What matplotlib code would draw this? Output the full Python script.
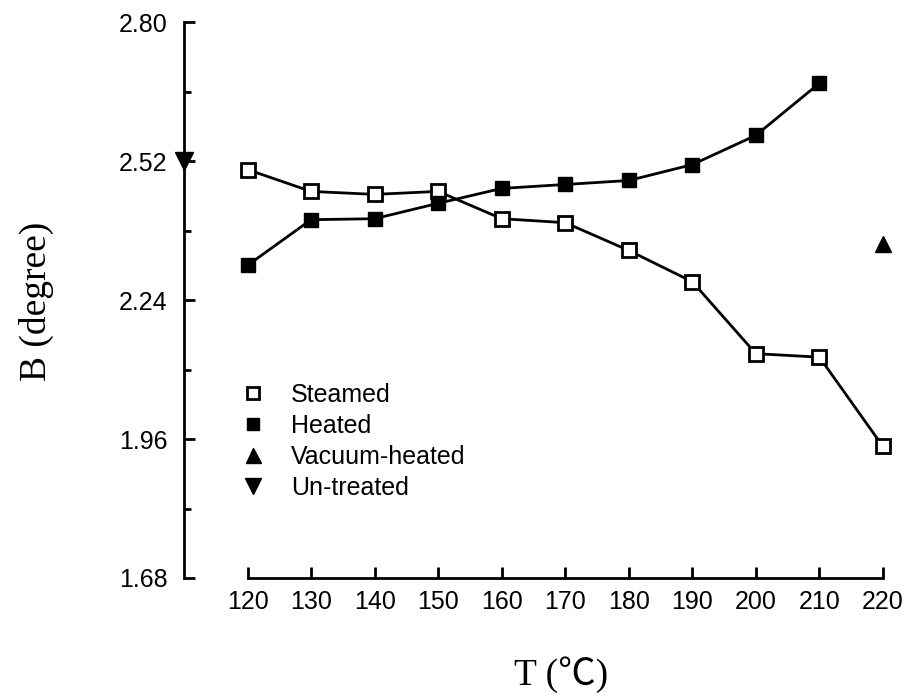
import matplotlib
matplotlib.use("Agg")
import matplotlib.pyplot as plt
from matplotlib.ticker import MultipleLocator

temps = [120, 130, 140, 150, 160, 170, 180, 190, 200, 210, 220]
steamed = [2.503, 2.459, 2.453, 2.459, 2.404, 2.396, 2.340, 2.277, 2.132, 2.125, 1.945]
heated_t = [120, 130, 140, 150, 160, 170, 180, 190, 200, 210]
heated = [2.310, 2.402, 2.404, 2.435, 2.465, 2.473, 2.481, 2.513, 2.572, 2.677]
vacuum_t = [220]
vacuum = [2.354]
untreated_t = [110]
untreated = [2.52]
yticks = [1.68, 1.96, 2.24, 2.52, 2.80]
xticks = [120, 130, 140, 150, 160, 170, 180, 190, 200, 210, 220]

plt.rcParams['font.family'] = ['Liberation Sans', 'DejaVu Sans']

fig = plt.figure(figsize=(9.13, 7.0), dpi=100)
ax = fig.add_axes([0.2015, 0.1743, 0.7656, 0.794])

ax.plot(temps, steamed, color='black', lw=2.0, marker='s', ms=10,
        mfc='white', mec='black', mew=2.0, label='Steamed', clip_on=False, zorder=3)
ax.plot(heated_t, heated, color='black', lw=2.0, marker='s', ms=10,
        mfc='black', mec='black', label='Heated', clip_on=False, zorder=3)
ax.plot(vacuum_t, vacuum, ls='none', marker='^', ms=12, color='black',
        label='Vacuum-heated', clip_on=False, zorder=3)
ax.plot(untreated_t, untreated, ls='none', marker='v', ms=13, color='black',
        label='Un-treated', clip_on=False, zorder=4)

ax.set_xlim(110, 220)
ax.set_ylim(1.68, 2.80)
ax.set_xticks(xticks)
ax.set_yticks(yticks)
ax.set_yticklabels([f"{v:.2f}" for v in yticks])
ax.yaxis.set_minor_locator(MultipleLocator(0.14))

for s in ['top', 'right']:
    ax.spines[s].set_visible(False)
ax.spines['left'].set_linewidth(2.0)
ax.spines['bottom'].set_linewidth(2.0)
ax.spines['bottom'].set_bounds(120, 220)

ax.tick_params(axis='both', which='major', direction='in', length=8, width=2.0,
               labelsize=18, pad=12)
ax.tick_params(axis='y', which='minor', direction='in', length=5, width=2.0)
ax.tick_params(axis='x', pad=9)

leg = ax.legend(loc='upper left', bbox_to_anchor=(0.0457, 0.391), frameon=False,
                fontsize=18, handlelength=1.2, handletextpad=0.9, labelspacing=0.28,
                numpoints=1, markerscale=0.9)
for h in leg.legend_handles:
    h.set_linestyle('none')

fig.text(0.040, 0.569, 'B (degree)', rotation=90, ha='center', va='center',
         fontsize=27, family=['Liberation Serif', 'DejaVu Serif'])
fig.text(0.615, 0.036, 'T (℃)', ha='center', va='center',
         fontsize=27, family=['Liberation Serif', 'Noto Sans CJK JP', 'DejaVu Sans'])

fig.savefig('out.png', dpi=100)
